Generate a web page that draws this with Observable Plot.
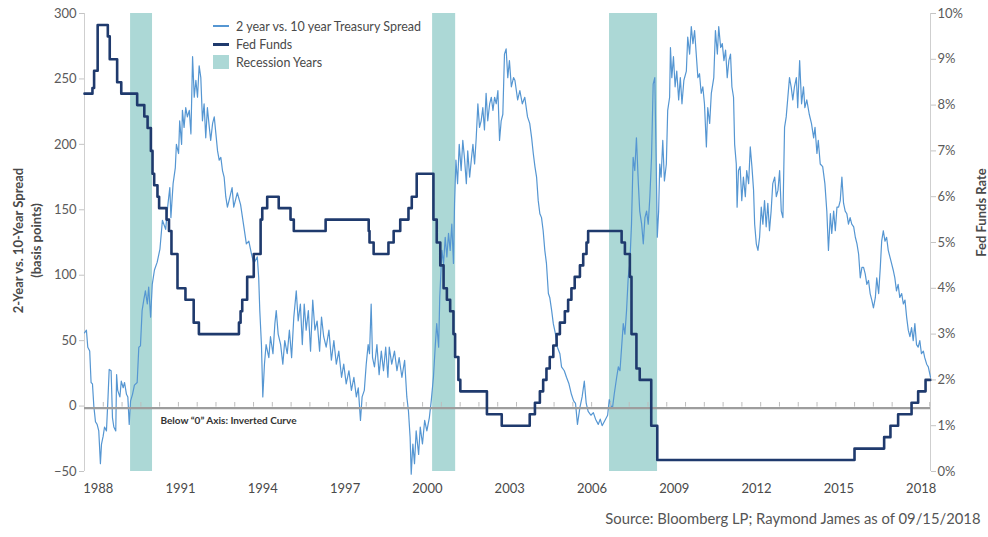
<!DOCTYPE html>
<html>
<head>
<meta charset="utf-8">
<script src="https://cdn.jsdelivr.net/npm/d3@7"></script>
<script src="https://cdn.jsdelivr.net/npm/@observablehq/plot@0.6"></script>
<style>
  html, body { margin: 0; padding: 0; background: #fff; }
  #wrap { position: relative; width: 988px; height: 537px; font-family: Lato, sans-serif; }
  #legend { position: absolute; left: 213px; top: 0; font-size: 12.5px; color: #4a4a4a; }
  .lrow { position: absolute; left: 0; white-space: nowrap; display: flex; align-items: center; height: 16px; }
  .sw { display: inline-block; width: 16px; margin-right: 7px; }
</style>
</head>
<body>
<div id="wrap"><div id="legend"></div></div>
<script>
// ---------------- data ----------------
const xDomain = [1987.5, 2018.34];
const leftDomain = [-50, 300];
const leftTicks = [-50, 0, 50, 100, 150, 200, 250, 300];
const rightTicks = [0, 1, 2, 3, 4, 5, 6, 7, 8, 9, 10];
const yearTicks = [1988, 1991, 1994, 1997, 2000, 2003, 2006, 2009, 2012, 2015, 2018];

const recessionStart = [1989.18, 2000.19, 2006.64];
const recessionEnd   = [1989.98, 2001.03, 2008.39];

const legendLabels = ["2 year vs. 10 year Treasury Spread", "Fed Funds", "Recession Years"];
const leftTitle = "2-Year vs. 10-Year Spread\n(basis points)";
const rightTitle = "Fed Funds Rate";
const caption = "Source: Bloomberg LP; Raymond James as of 09/15/2018";
const annotation = [{year: 1990.27, value: -11, label: "Below \u201c0\u201d Axis: Inverted Curve"}];

// Fed Funds target rate (%), step starts
const fedFunds = [
  [1987.50, 8.25], [1987.79, 8.375], [1987.85, 8.75], [1987.98, 9.75], [1988.35, 9.5],
  [1988.42, 9.0], [1988.69, 8.5], [1988.84, 8.25], [1989.42, 8.0], [1989.68, 7.75],
  [1989.80, 7.5], [1989.92, 7.0], [1989.98, 6.5], [1990.04, 6.25], [1990.16, 6.0],
  [1990.22, 5.75], [1990.49, 5.5], [1990.58, 5.25], [1990.67, 4.75], [1990.89, 4.0],
  [1991.18, 3.75], [1991.48, 3.25], [1991.67, 3.0], [1993.13, 3.25], [1993.19, 3.5],
  [1993.25, 3.75], [1993.43, 4.25], [1993.67, 4.75], [1993.92, 5.5], [1993.98, 5.75],
  [1994.16, 6.0], [1994.58, 5.75], [1995.01, 5.5], [1995.13, 5.25], [1996.29, 5.5],
  [1997.86, 5.25], [1997.89, 5.0], [1998.04, 4.75], [1998.58, 5.0], [1998.77, 5.25],
  [1999.01, 5.5], [1999.31, 5.75], [1999.43, 6.0], [1999.61, 6.5], [2000.22, 5.5],
  [2000.34, 5.0], [2000.47, 4.5], [2000.59, 4.0], [2000.71, 3.75], [2000.83, 3.5],
  [2000.95, 3.0], [2001.01, 2.5], [2001.13, 2.0], [2001.20, 1.75], [2002.17, 1.25],
  [2002.71, 1.0], [2003.73, 1.25], [2003.92, 1.5], [2004.10, 1.75], [2004.22, 2.0],
  [2004.34, 2.25], [2004.46, 2.5], [2004.59, 2.75], [2004.71, 3.0], [2004.83, 3.25],
  [2005.01, 3.5], [2005.13, 3.75], [2005.25, 4.0], [2005.37, 4.25], [2005.56, 4.5],
  [2005.68, 4.75], [2005.80, 5.0], [2005.86, 5.25], [2007.08, 5.0], [2007.20, 4.75],
  [2007.38, 4.25], [2007.44, 3.0], [2007.62, 2.25], [2007.74, 2.0], [2008.16, 1.0],
  [2008.38, 0.25], [2015.57, 0.5], [2016.65, 0.75], [2016.88, 1.0], [2017.16, 1.25],
  [2017.65, 1.5], [2017.89, 1.75], [2018.16, 2.0], [2018.34, 2.0]
];

// 2-year vs 10-year Treasury spread (basis points)
const spread = [
  [1987.50,56],[1987.57,58],[1987.62,45],[1987.69,42],[1987.74,18],[1987.79,17],[1987.84,0],[1987.90,-12],
  [1987.96,-14],[1988.02,-19],[1988.08,-44],[1988.12,-29],[1988.18,-23],[1988.23,-16],[1988.30,-19],[1988.35,3],
  [1988.40,28],[1988.47,27],[1988.52,-9],[1988.57,-16],[1988.64,-19],[1988.67,24],[1988.71,12],[1988.79,7],
  [1988.84,19],[1988.91,14],[1988.96,18],[1989.03,9],[1989.08,7],[1989.13,-14],[1989.18,4],[1989.25,9],
  [1989.32,16],[1989.42,18],[1989.48,45],[1989.54,46],[1989.60,73],[1989.66,81],[1989.72,88],[1989.79,78],
  [1989.84,91],[1989.91,68],[1989.97,93],[1990.05,104],[1990.15,110],[1990.25,120],[1990.34,142],[1990.46,135],
  [1990.53,152],[1990.61,167],[1990.65,144],[1990.73,170],[1990.81,182],[1990.85,200],[1990.93,193],[1990.97,218],
  [1991.04,200],[1991.07,226],[1991.13,213],[1991.19,228],[1991.25,221],[1991.32,226],[1991.38,208],[1991.44,267],
  [1991.50,236],[1991.56,249],[1991.62,236],[1991.68,260],[1991.74,251],[1991.80,218],[1991.86,231],[1991.92,205],
  [1991.98,228],[1992.05,213],[1992.10,203],[1992.17,216],[1992.23,221],[1992.29,208],[1992.35,195],[1992.41,188],
  [1992.47,190],[1992.53,180],[1992.59,175],[1992.65,160],[1992.71,152],[1992.78,158],[1992.88,167],[1992.94,152],
  [1993.07,163],[1993.19,154],[1993.31,137],[1993.40,124],[1993.49,126],[1993.59,116],[1993.67,109],[1993.80,114],
  [1993.85,98],[1993.89,73],[1993.95,47],[1994.00,7],[1994.06,32],[1994.12,47],[1994.22,37],[1994.28,53],
  [1994.37,40],[1994.44,63],[1994.49,73],[1994.56,55],[1994.65,47],[1994.73,32],[1994.80,50],[1994.89,40],
  [1994.97,58],[1995.05,37],[1995.13,68],[1995.22,88],[1995.29,65],[1995.37,78],[1995.44,47],[1995.51,78],
  [1995.58,58],[1995.66,73],[1995.74,42],[1995.82,81],[1995.90,58],[1995.98,65],[1996.07,42],[1996.14,68],
  [1996.22,53],[1996.31,45],[1996.41,58],[1996.50,35],[1996.59,50],[1996.68,32],[1996.77,42],[1996.87,22],
  [1996.95,32],[1997.04,17],[1997.14,27],[1997.23,12],[1997.32,22],[1997.41,7],[1997.48,14],[1997.56,-11],
  [1997.62,7],[1997.70,12],[1997.77,32],[1997.84,47],[1997.89,40],[1997.95,78],[1998.00,37],[1998.07,30],
  [1998.16,47],[1998.24,24],[1998.32,42],[1998.40,27],[1998.48,45],[1998.56,22],[1998.61,45],[1998.70,32],
  [1998.80,42],[1998.89,27],[1998.97,37],[1999.07,22],[1999.17,35],[1999.25,7],[1999.31,-4],[1999.37,-24],
  [1999.41,-52],[1999.47,-29],[1999.53,-44],[1999.59,-19],[1999.68,-37],[1999.74,-16],[1999.82,-29],[1999.90,-11],
  [1999.98,-19],[2000.07,-9],[2000.14,4],[2000.22,22],[2000.29,47],[2000.34,63],[2000.41,45],[2000.45,83],
  [2000.53,119],[2000.59,109],[2000.65,129],[2000.71,114],[2000.77,132],[2000.83,119],[2000.89,139],[2000.95,109],
  [2000.99,155],[2001.04,188],[2001.10,170],[2001.16,200],[2001.23,180],[2001.29,203],[2001.35,190],[2001.42,170],
  [2001.47,195],[2001.54,175],[2001.60,188],[2001.66,200],[2001.72,185],[2001.78,205],[2001.84,231],[2001.90,213],
  [2001.96,218],[2002.02,228],[2002.08,211],[2002.14,239],[2002.20,218],[2002.27,231],[2002.33,236],[2002.39,226],
  [2002.45,236],[2002.51,231],[2002.57,241],[2002.63,203],[2002.69,218],[2002.75,223],[2002.81,269],[2002.87,273],
  [2002.93,251],[2002.99,264],[2003.06,244],[2003.14,251],[2003.19,249],[2003.29,234],[2003.37,241],[2003.46,231],
  [2003.55,236],[2003.65,221],[2003.73,216],[2003.80,205],[2003.86,193],[2003.92,183],[2003.98,175],[2004.04,157],
  [2004.10,147],[2004.16,144],[2004.22,134],[2004.28,119],[2004.34,109],[2004.41,86],[2004.46,83],[2004.53,73],
  [2004.59,63],[2004.67,55],[2004.74,45],[2004.83,40],[2004.89,30],[2004.99,27],[2005.07,22],[2005.16,17],
  [2005.25,9],[2005.33,4],[2005.40,2],[2005.47,-14],[2005.56,-1],[2005.64,7],[2005.72,19],[2005.79,2],
  [2005.86,-4],[2005.96,-7],[2006.05,-5],[2006.13,-10],[2006.23,-14],[2006.30,-10],[2006.37,-15],[2006.47,-11],
  [2006.57,-7],[2006.63,5],[2006.69,0],[2006.75,-1],[2006.81,9],[2006.90,22],[2006.96,30],[2007.02,27],
  [2007.08,45],[2007.14,63],[2007.20,55],[2007.26,73],[2007.32,98],[2007.38,109],[2007.44,139],[2007.50,190],
  [2007.56,180],[2007.62,205],[2007.69,170],[2007.74,149],[2007.81,139],[2007.87,124],[2007.93,144],[2007.99,149],
  [2008.05,139],[2008.11,160],[2008.17,190],[2008.23,246],[2008.29,251],[2008.34,188],[2008.38,129],[2008.43,149],
  [2008.47,185],[2008.52,175],[2008.58,203],[2008.64,172],[2008.71,185],[2008.76,226],[2008.83,236],[2008.86,274],
  [2008.91,251],[2008.97,267],[2009.03,244],[2009.09,256],[2009.16,234],[2009.22,251],[2009.28,231],[2009.35,249],
  [2009.44,256],[2009.49,282],[2009.56,269],[2009.62,290],[2009.68,277],[2009.74,287],[2009.80,269],[2009.86,251],
  [2009.92,254],[2009.98,239],[2010.04,244],[2010.10,231],[2010.17,198],[2010.22,228],[2010.29,216],[2010.35,239],
  [2010.44,251],[2010.50,287],[2010.57,269],[2010.62,290],[2010.69,274],[2010.75,277],[2010.81,264],[2010.87,272],
  [2010.93,251],[2010.99,264],[2011.05,269],[2011.10,244],[2011.16,236],[2011.20,200],[2011.26,185],[2011.29,152],
  [2011.34,180],[2011.40,183],[2011.46,157],[2011.52,175],[2011.59,160],[2011.64,180],[2011.71,170],[2011.77,198],
  [2011.83,183],[2011.89,165],[2011.93,139],[2011.99,124],[2012.05,119],[2012.11,129],[2012.17,152],[2012.23,139],
  [2012.29,157],[2012.35,137],[2012.41,155],[2012.47,134],[2012.53,149],[2012.59,170],[2012.66,175],[2012.72,160],
  [2012.78,165],[2012.84,180],[2012.90,149],[2012.96,144],[2013.02,213],[2013.08,221],[2013.14,236],[2013.20,251],
  [2013.26,244],[2013.32,234],[2013.38,244],[2013.45,251],[2013.50,228],[2013.57,264],[2013.64,231],[2013.71,244],
  [2013.76,228],[2013.83,234],[2013.92,223],[2014.00,216],[2014.08,205],[2014.13,213],[2014.20,193],[2014.25,203],
  [2014.32,185],[2014.41,183],[2014.49,170],[2014.56,149],[2014.62,119],[2014.69,147],[2014.74,132],[2014.81,149],
  [2014.87,134],[2014.93,152],[2014.99,152],[2015.05,157],[2015.11,175],[2015.17,155],[2015.23,149],[2015.29,147],
  [2015.35,139],[2015.41,144],[2015.47,139],[2015.54,137],[2015.60,129],[2015.66,124],[2015.72,116],[2015.78,98],
  [2015.84,106],[2015.90,106],[2015.96,101],[2016.02,93],[2016.08,96],[2016.14,86],[2016.20,81],[2016.26,75],
  [2016.33,83],[2016.38,98],[2016.45,86],[2016.51,106],[2016.56,126],[2016.62,134],[2016.68,126],[2016.74,129],
  [2016.80,119],[2016.86,114],[2016.92,109],[2016.98,104],[2017.04,98],[2017.10,88],[2017.16,93],[2017.22,83],
  [2017.29,86],[2017.35,78],[2017.41,81],[2017.47,68],[2017.53,58],[2017.59,53],[2017.65,60],[2017.71,50],
  [2017.77,63],[2017.83,47],[2017.89,45],[2017.95,50],[2018.01,40],[2018.08,42],[2018.13,37],[2018.20,32],
  [2018.26,30],[2018.32,24],[2018.34,22]
];

// ---------------- chart ----------------
const recessions = recessionStart.map((s, i) => ({start: s, end: recessionEnd[i]}));
const rateToBp = r => leftDomain[0] + r * (leftDomain[1] - leftDomain[0]) / 10;
const zeroTickStep = 0.6847;
const zeroTicks = d3.range(xDomain[0] + zeroTickStep, xDomain[1] + 0.01, zeroTickStep);

const chart = Plot.plot({
  width: 988,
  height: 537,
  marginTop: 13,
  marginBottom: 66,
  marginLeft: 84,
  marginRight: 58,
  style: {fontFamily: "Lato, sans-serif", fontSize: "13px", background: "transparent", overflow: "visible"},
  x: {domain: xDomain, axis: null},
  y: {domain: leftDomain, axis: null},
  marks: [
    Plot.rect(recessions, {x1: "start", x2: "end", y1: leftDomain[0], y2: leftDomain[1], fill: "#acd8d6"}),
    Plot.ruleX([xDomain[0], xDomain[1]], {y1: leftDomain[0], y2: leftDomain[1], stroke: "#cfcfcf", strokeWidth: 1}),
    Plot.line(spread, {x: d => d[0], y: d => d[1], stroke: "#5596d2", strokeWidth: 1.2}),
    Plot.ruleY([0], {x1: xDomain[0], x2: xDomain[1], stroke: "#9d9d9d", strokeWidth: 2.2, dy: 2}),
    Plot.ruleX(zeroTicks, {y1: 0, y2: 3.5, stroke: "#bdbdbd", strokeWidth: 1, dy: 1}),
    Plot.line(fedFunds, {x: d => d[0], y: d => rateToBp(d[1]), curve: "step-after", stroke: "#1f3a6d", strokeWidth: 2.6}),
    Plot.axisY(leftTicks, {anchor: "left", tickSize: 5, tickPadding: 3, stroke: "#c4c4c4", fill: "#5a5a5a", fontSize: 13, label: null}),
    Plot.axisY(rightTicks.map(rateToBp), {anchor: "right", tickSize: 5, tickPadding: 2, stroke: "#c4c4c4", fill: "#5a5a5a", fontSize: 13, label: null,
      tickFormat: v => `${Math.round((v - leftDomain[0]) * 10 / (leftDomain[1] - leftDomain[0]))}%`}),
    Plot.axisX(yearTicks, {anchor: "bottom", tickSize: 0, tickPadding: 12, fill: "#4a4a4a", fontSize: 13, label: null, tickFormat: d => String(d)}),
    Plot.text(annotation, {x: "year", y: "value", text: "label", textAnchor: "start", fontSize: 10, fontWeight: 700, fill: "#333"}),
    Plot.text([leftTitle], {frameAnchor: "left", textAnchor: "middle", dx: -58, dy: -2, rotate: -90, text: d => d, fontSize: 13, fontWeight: 700, fill: "#4a4a4a", lineHeight: 1.38}),
    Plot.text([rightTitle], {frameAnchor: "right", textAnchor: "middle", dx: 51, dy: -30, rotate: -90, text: d => d, fontSize: 13, fontWeight: 700, fill: "#4a4a4a"}),
    Plot.text([caption], {frameAnchor: "bottom-right", dx: 50, dy: 52, textAnchor: "end", text: d => d, fontSize: 14.8, fill: "#555"})
  ]
});
document.getElementById("wrap").prepend(chart);

// legend
const legend = document.getElementById("legend");
const legendSwatches = [
  '<span class="sw" style="height:1.5px;background:#5596d2"></span>',
  '<span class="sw" style="height:3px;background:#1f3a6d"></span>',
  '<span class="sw" style="height:14px;background:#acd8d6"></span>'
];
const legendRowCenters = [26, 44, 62];
legendLabels.forEach((lab, i) => {
  const row = document.createElement("div");
  row.className = "lrow";
  row.style.top = (legendRowCenters[i] - 8) + "px";
  row.innerHTML = legendSwatches[i] + "<span>" + lab + "</span>";
  legend.appendChild(row);
});
</script>
</body>
</html>
